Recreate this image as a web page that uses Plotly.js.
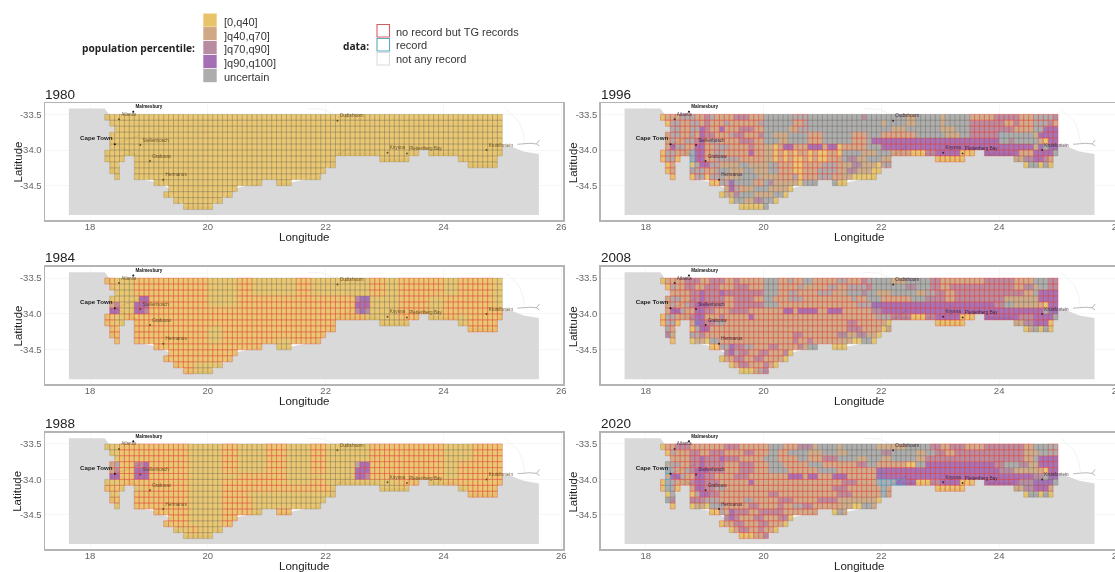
<!DOCTYPE html>
<html><head><meta charset="utf-8">
<script src="https://cdn.plot.ly/plotly-3.0.1.min.js"></script>
<style>html,body{margin:0;padding:0;background:#fff;overflow:hidden;width:1115px;height:572px}#c{width:1125px;height:572px;filter:blur(0.45px)}</style>
</head><body><div id="c"></div>
<script>
// ---------- chart data ----------
const years = ["1980","1984","1988","1996","2008","2020"];
const xTicks = [18,20,22,24,26];
const yTicks = [-33.5,-34,-34.5];
const yTickText = ["-33.5","-34.0","-34.5"];
const legendFill = ["[0,q40]","]q40,q70]","]q70,q90]","]q90,q100]","uncertain"];
const legendData = ["no record but TG records","record","not any record"];

const cityNames = ["Atlantis","Stellenbosch","Grabouw","Hermanus","Oudtshoorn","Knysna","Plettenberg Bay","Kruisfontein"];
const cityLon = [18.49,18.853,19.017,19.243,22.2,23.05,23.38,24.73];
const cityLat = [-33.57,-33.93,-34.154,-34.416,-33.59,-34.04,-34.05,-34.0];
const outerNames = ["Malmesbury"], outerLon = [18.734], outerLat = [-33.464];
const capeLon = [18.42], capeLat = [-33.92];

const seaLon = [17.64,18.25,18.32,18.36,18.45,18.37,18.37,18.3,18.3,18.36,18.45,18.46,18.46,18.54,18.62,18.79,18.79,18.79,19.12,19.38,19.29,19.46,19.62,20.04,20.21,20.38,20.46,20.87,20.92,21.17,21.2,21.38,21.87,21.96,22.12,22.12,22.2,22.87,22.96,23.38,23.54,23.6,23.73,23.79,24.21,24.29,24.46,24.87,24.87,24.96,25.0,25.16,25.36,25.62,25.62,17.64];
const seaLat = [-33.42,-33.42,-33.5,-33.6,-33.7,-33.78,-33.98,-34.0,-34.15,-34.17,-34.35,-34.41,-34.3,-34.12,-34.05,-34.05,-34.15,-34.4,-34.45,-34.55,-34.62,-34.7,-34.79,-34.79,-34.7,-34.62,-34.54,-34.46,-34.4,-34.4,-34.46,-34.46,-34.38,-34.29,-34.2,-34.12,-34.04,-34.04,-34.12,-34.12,-34.04,-33.95,-33.95,-34.04,-34.04,-34.12,-34.2,-34.2,-34.12,-34.04,-33.95,-33.954,-34.02,-34.056,-34.91,-34.91];
const riverLon = [25.256,25.47,25.58,25.63,null,25.58,25.63,null,18.42,18.85,null,18.42,18.79,null,22.16,22.44];
const riverLat = [-33.92,-33.906,-33.915,-33.86,null,-33.915,-33.944,null,-33.92,-33.79,null,-33.92,-34.07,null,-34.09,-33.95];
const paleLon = [25.05,25.28,25.35,25.38,null,21.7,21.95,22.15];
const paleLat = [-33.42,-33.6,-33.75,-33.9,null,-33.42,-33.43,-33.5];

// cells present on the 1/12 degree grid: row -> [first,last] column spans
const gridSpans = [[[0,80]],[[1,80]],[[2,80]],[[1,80]],[[1,80]],[[1,80]],[[0,63],[66,80]],[[0,3],[6,46],[56,61],[72,79]],[[1,2],[6,46],[74,79]],[[1,2],[6,44]],[[2,2],[6,43]],[[10,31],[35,37]],[[13,26]],[[12,25]],[[14,23]],[[16,21]]];

// each row: "startColumn + class" breakpoints. a,b,c,d,u = population classes
const fill1980 = ["0a","0a","0a","0a","0a","0a","0a","0a","0a","0a","0a","0a","0a","0a","0a","0a"];
const fill1984 = ["0a","0a","0a","0a 7d 9a 51c 52d 54a","0a 1b 2c 3a 6d 9a 51d 54a","0a 1d 3a 6d 8c 9a 51c 52d 53c 54a","0a","0a","0a","0a","0a","0a","0a","0a","0a","0a"];
const fill1988 = ["0a","0a","0a","0a 1b 2u 3a 6c 8d 9a 51u 52d 54a","0a 1b 2c 3a 6d 9a 51d 54a","0a 1d 3a 6d 9a 51d 53c 54a","0a","0a","0a","0a","0a","0a","0a","0a","0a","0a"];
const fill1996 = [
"0a 1b 4u 7b 9c 10u 11b 15c 18b 21u 41c 42u 50b 52u 57b 58u 63b 68c 73b 76u 80c",
"1a 2u 4b 6u 8b 9c 10b 13u 14b 20u 27b 29u 45b 46u 50b 52u 57b 58u 63c 70b 72c 73b 76u 79c 80b",
"2u 4b 6u 8d 9c 10b 12d 13b 16c 19b 21u 26b 28u 47b 50u 57b 60u 63c 72b 76u 78d",
"1b 2u 4b 6u 7b 8d 9c 11b 14u 15c 17b 20c 21u 23b 26u 30b 33u 39b 42u 45b 52u 58b 61u 63c 69u 76b 77d",
"1b 2u 3b 5u 7c 8d 9b 10u 12b 16c 19b 21u 24b 26u 30b 33u 39b 42u 43d 69u 71c 72u 77b 78a 79d",
"1b 2d 3u 5b 7d 9b 11u 14b 18c 19b 23a 24b 25d 27b 30d 33b 34d 36a 37b 42u 45d 76b 77d 78u 79d",
"0a 1u 3b 6u 7d 9b 11u 13b 18d 19b 23a 24b 25a 26b 27a 28b 30a 31b 32a 34b 36a 37u 41b 44u 47b 51a 54c 56d 61a 64d 73b 76d 80u",
"0a 1u 3a 6u 7d 9b 11u 16b 23a 24b 25a 26b 27a 29b 30a 31b 32a 34b 37u 38c 40b 42u 45b 56a 72b 74c 76d 78c 79b",
"1a 2b 6a 7u 8d 10u 12b 16u 18b 22u 24b 27a 29b 33u 36b 39c 41b 44a 45u 74a 75u 77a 78u 79a",
"1a 2b 6u 9b 11u 14b 17u 19b 22u 24b 27a 29b 32u 36b 38c 40b 43a",
"2a 6a 7u 9a 10u 13b 16u 20b 27u 28a 29b 32u 35b 39a",
"10a 12u 14d 15u 19b 21u 22c 23b 28a 29u 35u 36a",
"13b 14d 15u 16b 19u 22b 26a",
"12a 13b 15c 16u 19b 23u 25a",
"14a 15u 17b 19c 21u 23a",
"16a 21u"];
const fill2008 = [
"0a 1b 5c 8b 10c 13b 15c 16b 21u 24b 26u 27b 29u 31b 36u 38b 41c 42u 47b 50u 55c 57b 66c 72b 76u 79c",
"1a 2u 3b 5c 7b 9c 12b 15c 18b 21u 24b 28u 29b 34u 36b 38u 42c 43u 50c 52u 55c 57b 59c 72b 74c 76b 77u 79c",
"2b 6c 8d 9c 12d 13c 21u 24b 26u 28b 32u 35b 38u 41c 42u 44b 47u 52b 54u 56c 58b 60c 74b 76u 77d",
"1b 2u 4b 6c 8d 9c 13b 15c 19b 21u 23b 26u 29b 39u 40b 42u 45b 51u 54c 58b 60c 70b 77d",
"1b 2u 3b 5u 6c 7d 10c 13b 15c 21u 24b 40u 43d 68c 70u 72b 78a 79d",
"1b 2d 4u 5b 7d 9c 11b 14c 18b 25d 27b 28d 32b 34d 37b 43c 45d 78u 79d",
"0a 1u 3b 6c 7d 9b 12c 13b 18d 19b 44u 47c 51a 54c 56d 61a 64d 73c 76d 80u",
"0a 1u 3a 6b 7d 9c 11u 13b 38c 40b 46a 56a 72b 74c 76d 79a",
"1u 2b 6a 7u 8d 10b 38c 41b 45a 46b 74a 75b 76u 77a 78u 79a",
"1c 2b 6u 8c 9b 27c 29b 36c 38b 40c 42b 44a",
"2a 6a 7b 9a 10u 12b 27c 28b 30c 31b 39a 41u 43a",
"10a 12u 14d 15c 17u 19b 22c 24b 28c 29b 30u 35a",
"13c 14d 15u 16c 18b 20c 22b 25c 26a",
"12a 13b 15c 17b 19c 21b 25a",
"14a 15b 16c 18b 21c 22b 23a",
"16a 19b 20u 21c"];
const fill2020 = [
"0a 1b 3c 6b 13c 16b 22u 25b 28c 31b 32u 36b 37u 44b 50u 55c 57b 59c 62b 66c 74b 76u",
"1a 2u 3b 6c 8b 10c 13b 17c 19b 22u 24b 26u 30b 33u 36b 38u 45c 47u 52b 54u 56c 58b 60c 74b 77u",
"2b 6c 8d 9c 12d 13c 16b 21u 24b 28u 30b 33c 36u 40b 42u 45b 47u 52b 54c 74b 76u 77d",
"1b 2u 4b 6c 8d 9c 13b 16c 19b 22u 25b 30u 33b 40c 42u 44b 50a 52u 54d 68c 70u 73c 75b 77d",
"1u 3b 5u 6c 7d 10c 13b 16c 19b 22u 26b 32u 36b 44d 69c 72b 78a 79d",
"1b 2d 4u 5b 7d 9c 11b 15c 18b 26d 29b 30d 32b 35d 38b 44d 76c 78u 79d",
"0a 1u 3b 6c 7d 9c 12b 18d 19b 37c 40b 44u 48d 52a 55c 57d 61a 64d 73c 76d 80u",
"0a 1u 3a 6b 7d 9c 11u 13b 35c 38b 45u 46b 56a 72b 74c 76d 79b",
"1a 2u 6a 7u 8d 10c 12b 22c 24b 36c 39b 45u 46b 74a 75u 77a 78u 79a",
"1u 2c 6c 9u 12b 17u 19b 24c 27b 32c 36b 44a",
"2a 6a 7b 9a 10u 13b 18c 20b 24c 25b 27u 29c 31b 39a 41u 43b",
"10a 12u 13b 14d 15c 18b 20c 25b 35a 36u 37b",
"13c 14d 15c 16b 19c 21b 24c 26a",
"12a 13b 15c 17b 20c 22b 25a",
"14a 15b 16c 18b 20c 21b 23a",
"16a 19b 21c"];
const fills = [fill1980,fill1984,fill1988,fill1996,fill2008,fill2020];

// same idea for the cell outline: r = no record but TG records, t = record, g = not any record
const edge1980 = ["0g","0g","0g","0g","0g","0g","0g","0g","0g","0g","0g","0g","0g","0g","0g","0g"];
const edge1984 = [
"0r 2g 6r 21g 27r 30g 39r 42g 54r 57g 60r 69g 72r 79g",
"1r 2g 6r 21g 27r 30g 39r 42g 54r 57g 60r 69g 72r 79g",
"2g 6r 21g 27r 30g 39r 42g 54r 57g 60r 69g 72r 79g",
"1g 6g 7r 21g 27r 51g 60r 66g 69r 79g",
"1r 3g 6r 21g 27r 51r 54g 60r 66g 69r 79g",
"1r 3g 6r 51g 60r 66g 69r",
"0r 2g 4r 53g 60r 66g 69r 72g 74r",
"0r 2g 4r 6r 51g 54r 56g 72g 74r",
"1r 6r 21g 24r 39r",
"1r 6r 21g 24r",
"2r 6r 21g 24r 35g 38r",
"10r 35g",
"13r","12r","14r 18g","16r 18g"];
const edge1988 = [
"0g 3r 17g 24r 27g 33r 37g 42r 45g 54r 69g 75r",
"1g 3r 17g 24r 27g 33r 37g 42r 45g 54r 69g 75r",
"2g 3r 17g 24r 27g 33r 37g 42r 45g 54r 69g 75r",
"1r 3r 17g 24r 27g 33r 37g 42r 45g 51r 54r 69g 72r",
"1r 3r 17g 24r 27g 33r 37g 42r 45g 51r 54r 69g 72r",
"1r 3r 17g 27r 33r 37g 45g 51r 54r 69g 72r",
"0g 3r 17g 24r 33r 37g 42r 45g 54g 60r 66g 69r",
"0r 3g 6g 8r 17g 24r 46g 56g 72g 74r",
"1g 6r 17g 24r 29g 46g 74r",
"1r 6r 17g 24r 30g",
"2g 6r 17g 24r 30g",
"10r 17g 24r 30g 35r",
"13r 17g 24r",
"12r 17g 24r",
"14g 17r 19g",
"16g"];
const edge1996 = [
"0r 21g 27r 30g 63r",
"1r 21g 27r 30g 63r",
"2r 21g 27r 30g 63r 76g 78r",
"1r 21g 30r 33g 39r 42g 45r 52g 63r 69t 70g 77r",
"1r 21g 30r 33g 39r 42g 43r 69g 77r",
"1r 21g 23r 42g 45r 76g",
"0r 6t 7r 21g 23r 37g 47r 80g",
"0r 6t 7r 21g 23r 37g 56r 72g 76r",
"1r 6t 7r 12g 23r 37g 45r 74g",
"1r 6r 12g 24r 37g",
"2r 6r 12g 24r 37g",
"10r 14g 19r 21g",
"13g 14r 17g",
"12g","14g","16g"];
const edge2008 = [
"0g 1r 21g 24r 29g 31r 43g 55r 76g 79r",
"1r 21g 24r 29g 31r 43g 55r 74g 79r",
"2r 21g 24r 36g 54r 76g 77r",
"1r 21g 23r 42g 45r 51g 56r 70g 77r",
"1r 21g 24r 43g 45r 70g 77r",
"1r 43g 45r 78g",
"0r 47r 80g",
"0r 7t 8r 45g 56r 72g 76r",
"1r 45g 74g",
"1g 6r 36g",
"2r 6g 12r 37g",
"10r 14g 15r 29g",
"13g 14r 26g",
"12g 13r 25g",
"14g 15r 23g",
"16g 19r"];
const edge2020 = [
"0g 1r 22g 25r 28g 36g 55r 76g 79r",
"1r 22g 24r 26g 36g 56r 74g 79r",
"2r 21g 24r 28g 30r 36g 54r 76g 77r",
"1t 2r 22g 25r 30g 33r 42g 44r 52g 54r 70g 77r",
"1t 2r 22g 26r 32g 36r 44g 46r 69g 77r",
"1t 2r 44g 46r 76g",
"0r 1t 2r 44t 50r 57r 73g 80g",
"0r 1t 2r 45t 46r 56r 72g 76r",
"1g 6r 45t 46r 74g",
"1g 6r 36g",
"2r 6g 12r 37g",
"10r 14g 15r 35g",
"13g 14r 26g",
"12r 25g",
"14g 15r 23g",
"16r"];
const edges = [edge1980,edge1984,edge1988,edge1996,edge2008,edge2020];

// ---------- styles ----------
const classKeys = ["a","b","c","d","u"];
const classFill = ["rgba(229,186,80,.8)","rgba(198,152,110,.8)","rgba(168,114,140,.8)","rgba(144,80,166,.8)","rgba(154,154,154,.8)"];
const legendColor = ["#e8c36a","#cfa986","#b78ba0","#a46fb5","#adadad"];
const edgeKeys = ["g","r","t"];
const edgeColor = {g:"rgba(110,105,90,.36)",r:"rgba(225,70,62,.55)",t:"rgba(70,165,205,.8)"};
const W=1125,H=572;
const panelBox = [[45,103,220],[45,266.7,384.3],[45,432.7,549],[600.7,103,220],[600.7,266.7,384.3],[600.7,432.7,549]];
const panelW = 518;
const FONT = '"Liberation Sans",Arial,sans-serif';

function expand(row){ // breakpoints -> class per column
  const out = new Array(81).fill(null);
  const toks = row.split(" ").map(t=>[parseInt(t),t.slice(-1)]);
  toks.forEach((t,i)=>{const end=i+1<toks.length?toks[i+1][0]:81; for(let c=t[0];c<end;c++) out[c]=t[1];});
  return out;
}
const cellLon = c=>18.25+c/12, cellLat = r=>-33.5-r/12;

const traces=[],annotations=[],shapes=[],layout={};
const note=(x,y,text,size,color,xanchor,extra)=>annotations.push(Object.assign({xref:"paper",yref:"paper",x:x/W,y:1-y/H,xanchor,yanchor:"middle",showarrow:false,text,borderpad:0,font:{size,color,family:FONT}},extra||{}));
years.forEach((yr,p)=>{
  const n=p===0?"":String(p+1), xa="x"+n, ya="y"+n;
  const [L,T,B]=panelBox[p];
  layout["xaxis"+n]={domain:[L/W,(L+panelW)/W],range:[17.235,26.03],anchor:ya,tickvals:xTicks,ticks:"",
    tickfont:{size:9.5,color:"#666",family:FONT},showline:true,mirror:true,linecolor:"#b4b4b4",linewidth:1.5,
    gridcolor:"#f1f1f1",gridwidth:.6,zeroline:false,ticklabelstandoff:-3};
  layout["yaxis"+n]={domain:[1-B/H,1-T/H],range:[-34.98,-33.342],anchor:xa,tickvals:yTicks,ticktext:yTickText,ticks:"",
    tickfont:{size:9.5,color:"#666",family:FONT},showline:true,mirror:true,linecolor:"#b4b4b4",linewidth:1.5,
    gridcolor:"#f1f1f1",gridwidth:.6,zeroline:false};
  note(L-1,T-9,yr,13.5,"#222","left");
  note(L+259,B+17,"Longitude",11.5,"#222","center");
  note(L-28,(T+B)/2+1,"Latitude",11.5,"#222","center",{textangle:-90});
  // map underlay
  traces.push({type:"scatter",mode:"lines",x:seaLon,y:seaLat,xaxis:xa,yaxis:ya,fill:"toself",fillcolor:"#d9d9d9",line:{width:0},hoverinfo:"skip",showlegend:false});
  traces.push({type:"scatter",mode:"lines",x:paleLon,y:paleLat,xaxis:xa,yaxis:ya,line:{width:.7,color:"#ececec"},hoverinfo:"skip",showlegend:false});
  traces.push({type:"scatter",mode:"lines",x:riverLon,y:riverLat,xaxis:xa,yaxis:ya,line:{width:.7,color:"#9a9a9a"},connectgaps:false,hoverinfo:"skip",showlegend:false});
  // cells
  const fx={},fy={},ex={},ey={};
  classKeys.forEach(k=>{fx[k]=[];fy[k]=[];});
  edgeKeys.forEach(k=>{ex[k]=[];ey[k]=[];});
  gridSpans.forEach((spans,r)=>{
    const fr=expand(fills[p][r]), er=expand(edges[p][r]);
    spans.forEach(([s,e])=>{
      for(let c=s;c<=e;c++){
        const x0=cellLon(c),x1=cellLon(c+1),y0=cellLat(r),y1=cellLat(r+1);
        const k=fr[c]||"u", g=er[c]||"g";
        fx[k].push(x0,x1,x1,x0,x0,null); fy[k].push(y0,y0,y1,y1,y0,null);
        ex[g].push(x0,x1,x1,x0,x0,null); ey[g].push(y0,y0,y1,y1,y0,null);
      }
    });
  });
  classKeys.forEach((k,i)=>{ if(fx[k].length) traces.push({type:"scatter",mode:"none",x:fx[k],y:fy[k],xaxis:xa,yaxis:ya,fill:"toself",fillcolor:classFill[i],hoverinfo:"skip",showlegend:false,name:legendFill[i]}); });
  edgeKeys.forEach(k=>{ if(ex[k].length) traces.push({type:"scatter",mode:"lines",x:ex[k],y:ey[k],xaxis:xa,yaxis:ya,line:{width:.65,color:edgeColor[k]},hoverinfo:"skip",showlegend:false}); });
  // places, on top of the cells
  const soft = p<3 ? "rgba(85,65,25,.85)" : "rgba(50,25,45,.9)";
  traces.push({type:"scatter",mode:"markers+text",x:cityLon,y:cityLat,text:cityNames,textposition:"top right",xaxis:xa,yaxis:ya,
    marker:{size:2,color:soft},textfont:{size:4.6,color:soft,family:FONT},hoverinfo:"skip",showlegend:false});
  traces.push({type:"scatter",mode:"markers+text",x:outerLon,y:outerLat,text:outerNames,textposition:"top right",xaxis:xa,yaxis:ya,
    marker:{size:2,color:"#111"},textfont:{size:4.6,color:"#111",family:FONT,weight:"bold"},hoverinfo:"skip",showlegend:false});
  traces.push({type:"scatter",mode:"markers+text",x:capeLon,y:capeLat,text:["Cape Town"],textposition:"top left",xaxis:xa,yaxis:ya,
    marker:{size:2,color:"#111"},textfont:{size:6.2,color:"#222",family:FONT,weight:"bold"},hoverinfo:"skip",showlegend:false});
});

// legends (paper positions in pixels)
const px=x=>x/W, py=y=>1-y/H;
const BOLD='"Open Sans",sans-serif';
annotations.push({xref:"paper",yref:"paper",x:px(196),y:py(48),xanchor:"right",yanchor:"middle",showarrow:false,borderpad:0,text:"<b>population percentile:</b>",font:{size:10.2,color:"#222",family:BOLD}});
annotations.push({xref:"paper",yref:"paper",x:px(370),y:py(46),xanchor:"right",yanchor:"middle",showarrow:false,borderpad:0,text:"<b>data:</b>",font:{size:10.2,color:"#222",family:BOLD}});
const swT=[13.5,27,41,55,69], txtY=[22,35.5,49,63,77];
legendFill.forEach((t,i)=>{
  shapes.push({type:"rect",xref:"paper",yref:"paper",x0:px(203.3),x1:px(216.7),y0:py(swT[i]),y1:py(swT[i]+13.2),fillcolor:legendColor[i],line:{width:0}});
  note(222.5,txtY[i],t,11,"#333","left");
});
const dT=[24.5,38.5,52.5], dY=[32,45,59], dC=["#d06060","#5aabc0","#dcdcdc"];
legendData.forEach((t,i)=>{
  shapes.push({type:"rect",xref:"paper",yref:"paper",x0:px(377),x1:px(389.5),y0:py(dT[i]),y1:py(dT[i]+12.5),fillcolor:"#fff",line:{width:1.1,color:dC[i]}});
  note(395,dY[i],t,11,"#333","left");
});

Object.assign(layout,{width:W,height:H,autosize:false,margin:{l:0,r:0,t:0,b:0},paper_bgcolor:"#fff",plot_bgcolor:"#fff",showlegend:false,annotations,shapes});
Plotly.newPlot("c",traces,layout,{displayModeBar:false,staticPlot:true});
</script></body></html>
